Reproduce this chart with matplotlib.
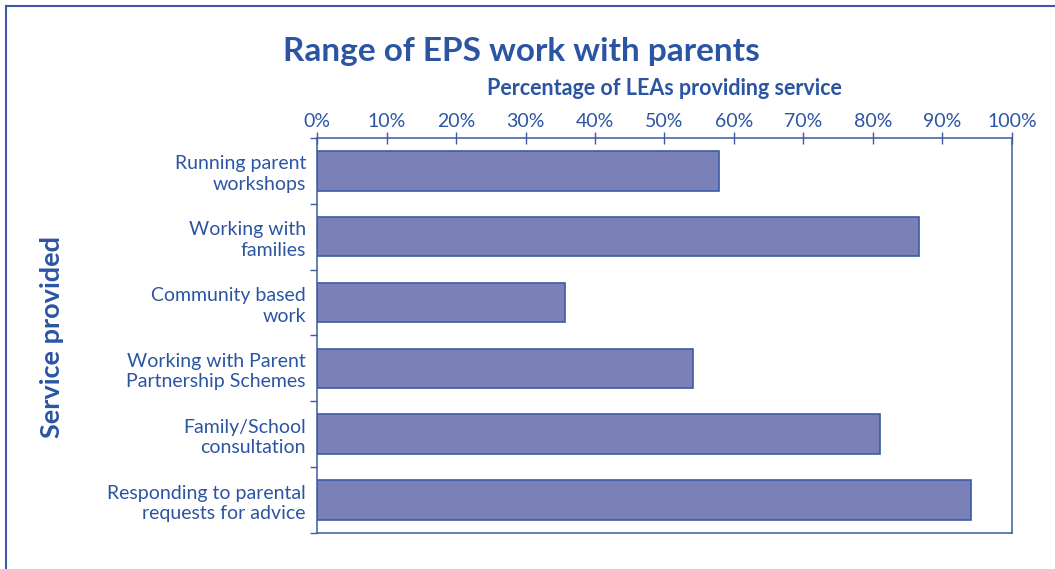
import matplotlib.pyplot as plt
from matplotlib.lines import Line2D

# data
services = [
    'Running parent\nworkshops',
    'Working with\nfamilies',
    'Community based\nwork',
    'Working with Parent\nPartnership Schemes',
    'Family/School\nconsultation',
    'Responding to parental\nrequests for advice',
]
percent = [57.9, 86.6, 35.7, 54.1, 81.0, 94.1]
x_ticks = [0, 10, 20, 30, 40, 50, 60, 70, 80, 90, 100]

TXT = '#2b55a3'
BAR = '#7981b8'
EDGE = '#3c5ba3'

plt.rcParams['font.family'] = ['Lato', 'DejaVu Sans']

fig = plt.figure(figsize=(10.55, 5.69), dpi=100)
ax = fig.add_axes([0.3005, 0.0633, 0.6587, 0.6942])

ypos = list(range(len(services)))
ax.barh(ypos, percent, height=0.6, color=BAR, edgecolor=EDGE, linewidth=1.2)

ax.set_xlim(0, 100)
ax.set_ylim(len(services) - 0.5, -0.5)

ax.xaxis.tick_top()
ax.xaxis.set_label_position('top')
ax.set_xticks(x_ticks)
ax.set_xticklabels([f'{t}%' for t in x_ticks], fontsize=14, color=TXT)
ax.tick_params(axis='x', direction='inout', length=8, width=1, color=EDGE, pad=2)
ax.set_xlabel('Percentage of LEAs providing service', fontsize=15.5,
              fontweight='bold', color=TXT, labelpad=13)

# ticks at category boundaries, labels at centres
ax.set_yticks([i - 0.5 for i in range(len(services) + 1)])
ax.set_yticklabels([])
ax.tick_params(axis='y', which='major', direction='out', length=5, width=1, color=EDGE)
ax.set_yticks(ypos, minor=True)
ax.set_yticklabels(services, minor=True, fontsize=14, color=TXT,
                   linespacing=1.25)
ax.tick_params(axis='y', which='minor', length=0, pad=8)

for s in ax.spines.values():
    s.set_color(EDGE)
    s.set_linewidth(1.1)

fig.text(0.494, 0.91, 'Range of EPS work with parents', ha='center',
         va='center', fontsize=24, fontweight='bold', color=TXT)
fig.text(0.049, 0.407, 'Service provided', rotation=90, ha='center',
         va='center', fontsize=19.5, fontweight='bold', color=TXT)

# outer frame (top and left edges visible)
fig.add_artist(Line2D([0.0057, 1.0], [1 - 6 / 569, 1 - 6 / 569],
                      transform=fig.transFigure, color=EDGE, lw=1.5))
fig.add_artist(Line2D([0.0057, 0.0057], [0, 1 - 6 / 569],
                      transform=fig.transFigure, color=EDGE, lw=1.5))

fig.savefig('out.png', dpi=100)
